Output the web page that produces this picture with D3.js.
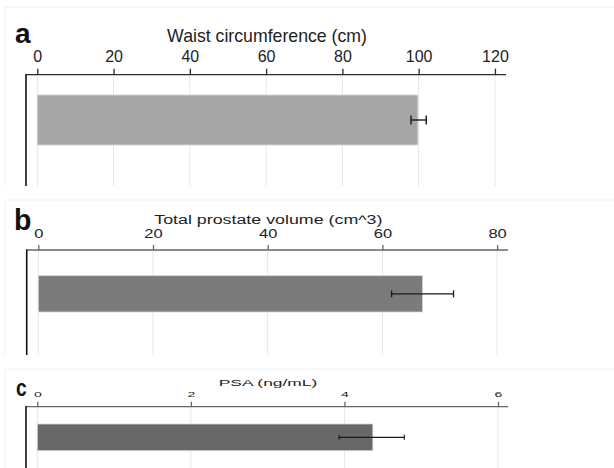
<!DOCTYPE html>
<html>
<head>
<meta charset="utf-8">
<script src="https://cdn.jsdelivr.net/npm/d3@7"></script>
<style>
  html, body { margin: 0; padding: 0; background: #fff; }
  svg { display: block; }
</style>
</head>
<body>
<script>
// ---- data ----
const panelLetters = ["a", "b", "c"];
const axisTitles = ["Waist circumference (cm)", "Total prostate volume (cm^3)", "PSA (ng/mL)"];
const meanValues = [99.8, 67.0, 4.37];
const errorLow = [98.0, 61.6, 3.93];
const errorHigh = [102.0, 72.4, 4.78];
const tickValues = [[0, 20, 40, 60, 80, 100, 120], [0, 20, 40, 60, 80], [0, 2, 4, 6]];
const axisDomains = [[-2.96, 122.9], [-2.02, 81.9], [-0.147, 6.13]];

// ---- layout / style (per panel) ----
const layout = [
  { frameY: 7, x0: 26, x1: 506, axisY: 74.7, bottom: 186, barTop: 95, barBot: 145,
    titleY: 42, titleSize: 17.7, titleSx: 1.0, tickY: 62, tickSize: 16, tickSx: 1.0, tickLen: 6,
    letterX: 15, letterY: 43, letterSize: 28, letterSx: 1.0,
    barColor: "#a6a6a6", axisColor: "#2a2a2a", cap: 4.5, errW: 1.4 },
  { frameY: 200, x0: 26.7, x1: 508, axisY: 250, bottom: 355, barTop: 275.7, barBot: 312,
    titleY: 224, titleSize: 13.3, titleSx: 1.34, tickY: 237.5, tickSize: 12.5, tickSx: 1.32, tickLen: 5,
    letterX: 14, letterY: 230, letterSize: 30, letterSx: 0.95,
    barColor: "#7b7b7b", axisColor: "#666", cap: 3.5, errW: 1.3 },
  { frameY: 369, x0: 26, x1: 508, axisY: 406.7, bottom: 468, barTop: 424, barBot: 450.7,
    titleY: 386.2, titleSize: 8.5, titleSx: 2.05, tickY: 397, tickSize: 7.8, tickSx: 1.8, tickLen: 5,
    letterX: 16, letterY: 396, letterSize: 24, letterSx: 0.8,
    barColor: "#686868", axisColor: "#666", cap: 2.5, errW: 1.1 }
];

const W = 614, H = 468;
const svg = d3.select("body").append("svg")
  .attr("width", W).attr("height", H)
  .style("font-family", "'Liberation Sans', Arial, sans-serif");

panelLetters.forEach((letter, i) => {
  const L = layout[i];
  const g = svg.append("g");
  const x = d3.scaleLinear().domain(axisDomains[i]).range([L.x0, L.x1]);

  // faint panel frame
  g.append("line").attr("x1", 5).attr("x2", W).attr("y1", L.frameY).attr("y2", L.frameY)
    .attr("stroke", "#f0f0f0").attr("stroke-width", 1);
  g.append("line").attr("x1", 5).attr("x2", 5).attr("y1", L.frameY).attr("y2", L.bottom)
    .attr("stroke", "#f0f0f0").attr("stroke-width", 1);

  // gridlines
  g.selectAll("line.grid").data(tickValues[i]).enter().append("line")
    .attr("class", "grid")
    .attr("x1", d => x(d)).attr("x2", d => x(d))
    .attr("y1", L.axisY).attr("y2", L.bottom)
    .attr("stroke", "#e6e6e6").attr("stroke-width", 1);

  // top axis via d3.axisTop
  const axis = d3.axisTop(x).tickValues(tickValues[i]).tickSize(L.tickLen).tickPadding(0).tickFormat(d3.format("d"));
  const ag = g.append("g").attr("transform", `translate(0,${L.axisY})`).call(axis);
  ag.select(".domain").attr("d", `M${L.x0},0H${L.x1}`).attr("stroke", L.axisColor).attr("stroke-width", 1.3);
  ag.selectAll(".tick line").attr("stroke", L.axisColor).attr("stroke-width", 1.3);
  ag.selectAll(".tick text")
    .attr("y", 0).attr("dy", 0)
    .attr("font-size", L.tickSize)
    .attr("fill", "#222")
    .attr("text-anchor", "middle")
    .attr("transform", `translate(0,${L.tickY - L.axisY}) scale(${L.tickSx},1)`);

  // left vertical line
  g.append("line").attr("x1", L.x0).attr("x2", L.x0).attr("y1", L.axisY - 0.6).attr("y2", L.bottom)
    .attr("stroke", "#111").attr("stroke-width", 1.6);

  // bar
  g.append("rect")
    .attr("x", x(0)).attr("y", L.barTop)
    .attr("width", x(meanValues[i]) - x(0)).attr("height", L.barBot - L.barTop)
    .attr("fill", L.barColor).attr("stroke", "#d8d8d8").attr("stroke-width", 0.8);

  // error bar
  const ey = (L.barTop + L.barBot) / 2;
  const eg = g.append("g").attr("stroke", "#1a1a1a").attr("stroke-width", L.errW);
  eg.append("line").attr("x1", x(errorLow[i])).attr("x2", x(errorHigh[i])).attr("y1", ey).attr("y2", ey);
  [errorLow[i], errorHigh[i]].forEach(v => {
    eg.append("line").attr("x1", x(v)).attr("x2", x(v)).attr("y1", ey - L.cap).attr("y2", ey + L.cap);
  });

  // axis title
  g.append("text")
    .attr("transform", `translate(${(L.x0 + L.x1) / 2 + 1},${L.titleY}) scale(${L.titleSx},1)`)
    .attr("text-anchor", "middle")
    .attr("font-size", L.titleSize)
    .attr("fill", "#222")
    .text(axisTitles[i]);

  // panel letter
  g.append("text")
    .attr("transform", `translate(${L.letterX},${L.letterY}) scale(${L.letterSx},1)`)
    .attr("font-size", L.letterSize)
    .attr("font-weight", "bold")
    .attr("fill", "#111")
    .text(letter);
});
</script>
</body>
</html>
